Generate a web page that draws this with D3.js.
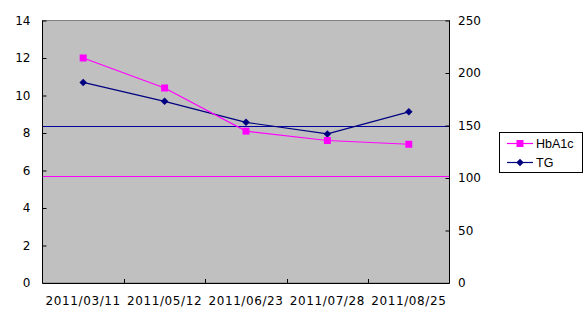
<!DOCTYPE html>
<html><head><meta charset="utf-8">
<script src="https://cdn.jsdelivr.net/npm/d3@7"></script>
<style>body{margin:0;background:#fff}svg{display:block}</style>
</head><body>
<script>
const categories = ["2011/03/11","2011/05/12","2011/06/23","2011/07/28","2011/08/25"];
const hba1c = [12.0, 10.4, 8.1, 7.6, 7.4];
const tg = [191, 173, 153, 142, 163];
const hba1cLimit = 5.7;
const tgLimit = 150;
const leftTicks = [0,2,4,6,8,10,12,14];
const rightTicks = [0,50,100,150,200,250];
const seriesNames = ["HbA1c","TG"];

const W=585,H=327;
const svg=d3.select("body").append("svg").attr("width",W).attr("height",H);
const L=42.5,R=449.5,T=20.5,B=283;
const x=d3.scaleBand().domain(categories).range([L,R]);
const yL=d3.scaleLinear().domain([0,14]).range([B,T]);
const yR=d3.scaleLinear().domain([0,250]).range([B,T]);
const font="'DejaVu Sans', sans-serif";

svg.append("rect").attr("x",L).attr("y",T).attr("width",R-L).attr("height",B-T).attr("fill","#c0c0c0").attr("stroke","#808080").attr("stroke-width",1);

// threshold lines
svg.append("line").attr("x1",L).attr("x2",R).attr("y1",Math.round(yR(tgLimit))+0.5).attr("y2",Math.round(yR(tgLimit))+0.5).attr("stroke","#0000a0").attr("stroke-width",1.2);
svg.append("line").attr("x1",L).attr("x2",R).attr("y1",Math.round(yL(hba1cLimit))+0.5).attr("y2",Math.round(yL(hba1cLimit))+0.5).attr("stroke","#ff00ff").attr("stroke-width",1.2);

// left axis
const ga=svg.append("g").attr("transform",`translate(${L},0)`).call(d3.axisLeft(yL).tickValues(leftTicks).tickSize(-4).tickPadding(12).tickFormat(d3.format("d")));
// right axis
const gr=svg.append("g").attr("transform",`translate(${R},0)`).call(d3.axisRight(yR).tickValues(rightTicks).tickSize(-4).tickPadding(8.5).tickFormat(d3.format("d")));
// bottom axis labels
const gb=svg.append("g").attr("transform",`translate(0,${B})`).call(d3.axisBottom(x).tickSize(0).tickPadding(13.5));
gb.selectAll(".tick text").attr("letter-spacing","0.6px");
// boundary ticks
svg.append("g").selectAll("line").data(categories.slice(0,-1)).join("line")
  .attr("x1",d=>Math.round(x(d)+x.bandwidth())+0.5).attr("x2",d=>Math.round(x(d)+x.bandwidth())+0.5)
  .attr("y1",B).attr("y2",B-4).attr("stroke","#000");
[ga,gr,gb].forEach(g=>{g.selectAll("text").attr("font-family",font).attr("font-size",12).attr("fill","#000");
  g.selectAll("path.domain,line").attr("stroke","#000");});
gb.select("path.domain").attr("d",`M${L},0.5H${R}`);
ga.select("path.domain").attr("d",`M0,${T}V${B}`);
gr.select("path.domain").attr("d",`M0,${T}V${B}`);

const cx=d=>x(d)+x.bandwidth()/2;
// TG line
svg.append("path").datum(tg).attr("fill","none").attr("stroke","#000080").attr("stroke-width",1.2)
  .attr("d",d3.line().x((d,i)=>cx(categories[i])).y(d=>yR(d)));
svg.append("g").selectAll("path").data(tg).join("path")
  .attr("d",d3.symbol(d3.symbolDiamond2,36)).attr("fill","#000080")
  .attr("transform",(d,i)=>`translate(${cx(categories[i])},${yR(d)})`);
// HbA1c line
svg.append("path").datum(hba1c).attr("fill","none").attr("stroke","#ff00ff").attr("stroke-width",1.2)
  .attr("d",d3.line().x((d,i)=>cx(categories[i])).y(d=>yL(d)));
svg.append("g").selectAll("rect").data(hba1c).join("rect")
  .attr("x",(d,i)=>cx(categories[i])-3.5).attr("y",d=>yL(d)-3.5).attr("width",7).attr("height",7).attr("fill","#ff00ff");

// legend
const lg=svg.append("g");
lg.append("rect").attr("x",499.5).attr("y",132.5).attr("width",83).attr("height",40).attr("fill","#fff").attr("stroke","#000");
const ly=[143.5,162.5];
seriesNames.forEach((n,i)=>{
  const col=i===0?"#ff00ff":"#000080";
  lg.append("line").attr("x1",507).attr("x2",533).attr("y1",ly[i]).attr("y2",ly[i]).attr("stroke",col).attr("stroke-width",1.2);
  if(i===0) lg.append("rect").attr("x",516.5).attr("y",ly[i]-3.5).attr("width",7).attr("height",7).attr("fill",col);
  else lg.append("path").attr("d",d3.symbol(d3.symbolDiamond2,36)).attr("fill",col).attr("transform",`translate(520,${ly[i]})`);
  lg.append("text").attr("x",536).attr("y",ly[i]+4.5).attr("font-family","'Liberation Sans', Arial, sans-serif").attr("font-size",12.5).text(n);
});
</script>
</body></html>
